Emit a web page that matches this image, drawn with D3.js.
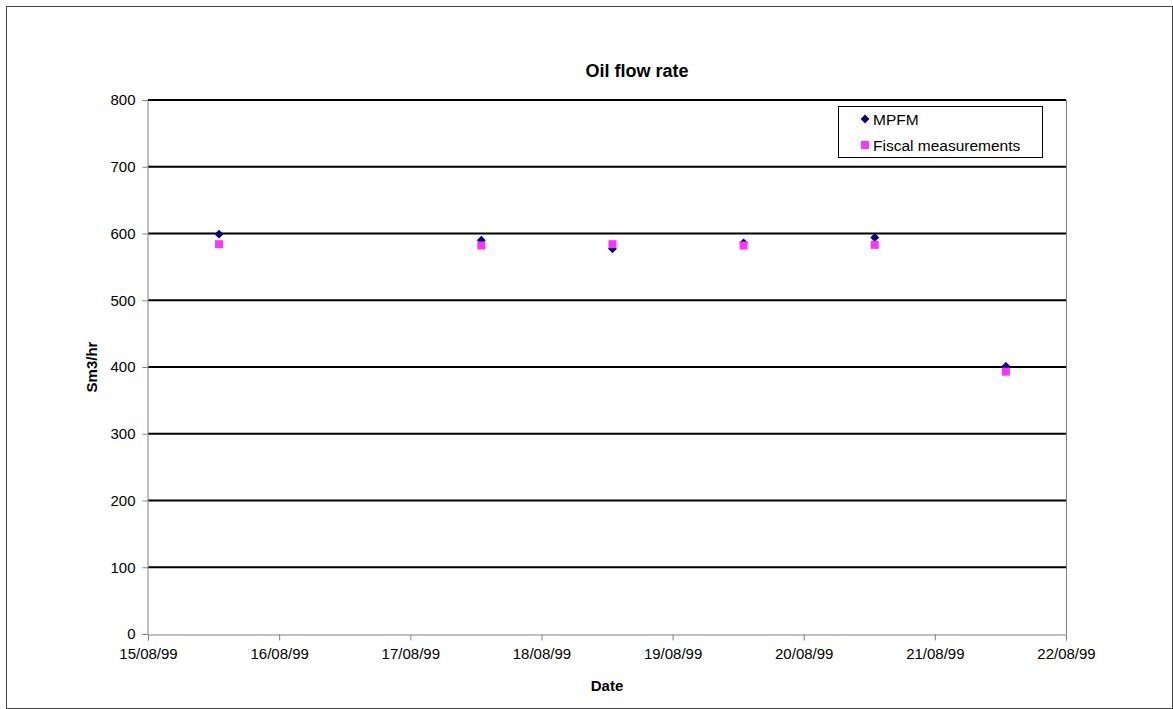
<!DOCTYPE html>
<html>
<head>
<meta charset="utf-8">
<script src="https://cdn.jsdelivr.net/npm/d3@7/dist/d3.min.js"></script>
<style>
  body { margin: 0; background: #fff; }
  svg text { font-family: "Liberation Sans", Arial, sans-serif; fill: #000; }
</style>
</head>
<body>
<svg id="chart" width="1173" height="709"></svg>
<script>
// Measurement dates (day/month/year, sampled at 13:00)
const dates = ["15/08/99 13:00", "17/08/99 13:00", "18/08/99 13:00", "19/08/99 13:00", "20/08/99 13:00", "21/08/99 13:00"];
const mpfm = [599, 590, 577, 586, 594, 401];
const fiscal = [584, 582, 584, 582, 583, 393];
const xTickLabels = ["15/08/99", "16/08/99", "17/08/99", "18/08/99", "19/08/99", "20/08/99", "21/08/99", "22/08/99"];
const yTicks = [0, 100, 200, 300, 400, 500, 600, 700, 800];
const seriesNames = ["MPFM", "Fiscal measurements"];

const parseDT = d3.timeParse("%d/%m/%y %H:%M");
const parseD = d3.timeParse("%d/%m/%y");

const svg = d3.select("#chart");
const plot = { left: 148, right: 1066, top: 100, bottom: 634 };

// Outer chart frame
svg.append("rect")
  .attr("x", 6.5).attr("y", 6.5)
  .attr("width", 1173 - 7).attr("height", 709 - 7)
  .attr("fill", "none").attr("stroke", "#444").attr("stroke-width", 1);

const x = d3.scaleTime()
  .domain([parseD(xTickLabels[0]), parseD(xTickLabels[xTickLabels.length - 1])])
  .range([plot.left, plot.right]);
const y = d3.scaleLinear().domain([0, 800]).range([plot.bottom, plot.top]);

// Horizontal gridlines
svg.append("g").selectAll("line")
  .data(yTicks.filter(v => v > 0))
  .join("line")
  .attr("x1", plot.left).attr("x2", plot.right)
  .attr("y1", d => y(d)).attr("y2", d => y(d))
  .attr("stroke", "#000").attr("stroke-width", 2);

// Right border of plot area
svg.append("line")
  .attr("x1", plot.right + 0.5).attr("x2", plot.right + 0.5)
  .attr("y1", plot.top).attr("y2", plot.bottom)
  .attr("stroke", "#808080");

// Y axis
const yAxis = svg.append("g")
  .attr("transform", `translate(${plot.left - 0.5},0)`)
  .call(d3.axisLeft(y).tickValues(yTicks).tickSize(5).tickPadding(7));
yAxis.select(".domain").attr("stroke", "#808080");
yAxis.selectAll(".tick line").attr("stroke", "#808080");
yAxis.selectAll("text").style("font-size", "15px");

// X axis
const xAxis = svg.append("g")
  .attr("transform", `translate(0,${plot.bottom + 0.5})`)
  .call(d3.axisBottom(x)
    .tickValues(xTickLabels.map(parseD))
    .tickFormat(d3.timeFormat("%d/%m/%y"))
    .tickSize(6).tickPadding(8));
xAxis.select(".domain").attr("stroke", "#808080");
xAxis.selectAll(".tick line").attr("stroke", "#808080");
xAxis.selectAll("text").style("font-size", "15px");

// Titles
svg.append("text").attr("x", 637).attr("y", 77).attr("text-anchor", "middle")
  .style("font-size", "18px").style("font-weight", "bold").text("Oil flow rate");
svg.append("text").attr("x", 607).attr("y", 691).attr("text-anchor", "middle")
  .style("font-size", "15px").style("font-weight", "bold").text("Date");
svg.append("text").attr("transform", "translate(97,367) rotate(-90)").attr("text-anchor", "middle")
  .style("font-size", "15px").style("font-weight", "bold").text("Sm3/hr");

const diamond = d3.symbol().type(d3.symbolDiamond2).size(50);
const square = d3.symbol().type(d3.symbolSquare).size(64);
const navy = "#000080", pink = "#ff33ff";

const pts = dates.map((d, i) => ({ t: parseDT(d), m: mpfm[i], f: fiscal[i] }));

// MPFM markers
svg.append("g").selectAll("path").data(pts).join("path")
  .attr("d", diamond)
  .attr("transform", d => `translate(${x(d.t)},${y(d.m)})`)
  .attr("fill", navy);

// Fiscal measurement markers
svg.append("g").selectAll("path").data(pts).join("path")
  .attr("d", square)
  .attr("transform", d => `translate(${x(d.t)},${y(d.f)})`)
  .attr("fill", pink);

// Legend
const lg = svg.append("g");
lg.append("rect").attr("x", 838.5).attr("y", 106.5).attr("width", 204).attr("height", 51)
  .attr("fill", "#fff").attr("stroke", "#000");
const legendItems = [
  { name: seriesNames[0], sym: diamond, color: navy, yy: 119 },
  { name: seriesNames[1], sym: square, color: pink, yy: 145 }
];
legendItems.forEach(it => {
  lg.append("path").attr("d", it.sym).attr("transform", `translate(865,${it.yy})`).attr("fill", it.color);
  lg.append("text").attr("x", 873).attr("y", it.yy + 5.5).style("font-size", "15.5px").text(it.name);
});
</script>
</body>
</html>
